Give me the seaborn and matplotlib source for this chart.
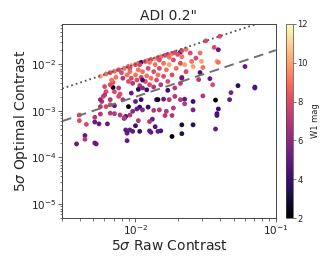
import numpy as np
import pandas as pd
import seaborn as sns
import matplotlib
matplotlib.use("Agg")
import matplotlib.pyplot as plt

# values, stored as log10 of the contrast
raw_log = [
    -2.25, -2.21, -2.18, -2.15, -2.12, -2.08, -2.05, -2.03, -2.00, -1.98,
    -1.96, -1.93, -1.91, -1.89, -1.86, -1.84, -1.82, -1.79, -1.77, -1.74,
    -1.72, -1.68, -1.67, -1.64, -1.50, -1.40, -2.04, -1.97, -1.90, -1.83,
    -1.76, -1.70,
    -2.16, -2.14, -2.10, -2.09, -2.06, -2.05, -2.04, -2.03, -2.02, -2.00,
    -1.99, -1.98, -1.97, -1.96, -1.95, -1.95, -1.93, -1.92, -1.91, -1.90,
    -1.89, -1.87, -1.87, -1.86, -1.85, -1.84, -1.83, -1.82, -1.80, -1.80,
    -1.78, -1.77, -1.76, -1.74, -1.73, -1.72, -1.71, -1.68, -1.67, -1.67,
    -1.65, -1.64, -1.61, -1.60, -1.59, -1.57, -1.54, -1.53, -1.52, -1.44,
    -1.42, -1.41, -1.41, -1.47,
    -1.95, -1.92, -1.98, -2.03, -1.96, -2.00, -1.91, -1.97, -1.85, -1.77,
    -1.54, -1.67,
    -2.24, -2.23, -2.18, -2.15, -2.12, -2.11, -2.09, -2.16, -2.05, -2.18,
    -2.15, -2.11, -2.08, -2.07, -2.04, -2.02, -1.99, -1.95, -1.87, -1.83,
    -1.78, -1.73, -1.80, -1.84, -1.76, -1.72, -1.68, -1.65, -1.65, -1.74,
    -1.79, -1.88, -1.90, -1.98, -2.00, -2.04, -2.07, -2.06, -1.86, -1.82,
    -1.90, -1.74, -1.67, -1.59, -1.59, -1.59, -1.52, -1.43, -1.41, -1.42,
    -1.42, -1.43, -1.33, -1.32, -1.27, -1.15, -1.15, -1.22, -1.55, -1.45,
    -1.68, -2.08,
    -2.42, -2.36, -2.36, -2.29, -2.28, -2.40, -2.40, -2.35, -2.29, -2.26,
    -2.20, -2.29, -2.25, -2.21, -2.25, -2.18, -2.02, -2.06, -1.97, -1.89,
    -1.84, -1.67,
    -2.22, -2.21, -2.18, -2.17, -2.15, -2.12, -2.22, -2.25,
]
opt_log = [
    -2.26, -2.21, -2.18, -2.15, -2.12, -2.09, -2.05, -2.03, -2.01, -1.98,
    -1.96, -1.94, -1.92, -1.90, -1.88, -1.86, -1.84, -1.81, -1.79, -1.77,
    -1.75, -1.74, -1.71, -1.68, -1.50, -1.40, -2.09, -2.01, -1.96, -1.91,
    -1.85, -1.79,
    -2.39, -2.28, -2.18, -2.30, -2.23, -2.37, -2.16, -2.30, -2.41, -2.23,
    -2.34, -2.12, -2.46, -2.28, -2.16, -2.51, -2.37, -2.25, -2.09, -2.44,
    -2.30, -2.16, -2.49, -2.01, -2.34, -2.23, -2.09, -2.44, -1.98, -2.26,
    -2.12, -2.37, -2.01, -2.23, -1.91, -2.51, -2.09, -1.98, -2.28, -1.84,
    -2.01, -2.16, -1.76, -1.94, -2.05, -1.87, -1.76, -1.94, -2.07, -1.64,
    -1.94, -1.96, -1.69, -2.31,
    -2.34, -2.55, -2.54, -2.62, -2.76, -2.80, -2.92, -2.92, -2.76, -2.56,
    -2.18, -2.30,
    -2.80, -2.69, -2.76, -2.89, -2.69, -2.64, -2.76, -2.50, -2.91, -3.05,
    -3.06, -3.09, -3.16, -3.12, -3.09, -3.01, -2.96, -2.98, -2.99, -2.98,
    -3.01, -2.94, -2.75, -2.76, -2.76, -2.69, -2.76, -2.75, -2.85, -3.10,
    -3.10, -3.18, -3.23, -3.21, -3.32, -3.41, -3.41, -3.64, -3.34, -3.43,
    -3.43, -3.55, -3.49, -3.30, -2.80, -2.98, -2.68, -2.77, -2.96, -3.06,
    -3.10, -3.39, -2.76, -2.61, -2.46, -2.49, -2.51, -2.05, -2.33, -2.44,
    -2.41, -3.15,
    -3.71, -3.53, -3.61, -3.69, -3.71, -3.09, -3.21, -3.29, -3.24, -3.28,
    -3.28, -3.14, -2.91, -2.91, -3.07, -2.87, -3.44, -3.48, -3.44, -3.46,
    -3.44, -3.30,
    -2.48, -2.59, -2.44, -2.34, -2.59, -2.51, -2.66, -2.76,
]
w1_mag = [
    10, 9, 8, 9, 8, 9, 8, 10, 8, 9,
    4, 8, 9, 8, 10, 8, 9, 8, 8, 9,
    8, 4, 8, 9, 8, 8, 8, 8, 9, 8,
    9, 8,
    8, 9, 8, 7, 9, 8, 9, 8, 7, 9,
    8, 9, 7, 8, 9, 6, 8, 9, 8, 8,
    9, 8, 7, 9, 8, 9, 8, 7, 9, 8,
    9, 8, 10, 8, 8, 7, 9, 8, 7, 9,
    10, 8, 8, 9, 10, 8, 9, 10, 9, 8,
    10, 9, 5, 5,
    4, 4, 3.5, 5, 4, 5, 4, 4, 4, 4,
    4.5, 5,
    7, 8, 7, 5, 8, 8, 7, 2.5, 2, 7,
    7, 7, 3, 4, 7, 6, 5, 6, 7, 7,
    7, 7, 5, 2.5, 7, 7, 7, 5, 7, 7,
    7, 5, 7, 7, 4, 5, 5, 5, 4.5, 4.5,
    5, 2, 3.5, 3.5, 4, 5.5, 7, 2, 4, 4,
    4.5, 5, 5, 5.5, 3.5, 4.5, 4.5, 5, 7, 8,
    7, 7,
    5, 5, 7, 5, 5, 8, 8, 8, 5, 5,
    5, 7, 7, 8, 7, 8, 5, 5, 4, 5,
    5, 3,
    8, 8, 8, 9, 8, 7, 7, 6,
]

line_x = [0.003, 0.1]
equal_ratio = 1.0     # dotted: optimal = raw
improved_ratio = 0.2  # dashed: optimal = 0.2 * raw

df = pd.DataFrame({
    "raw": 10 ** np.array(raw_log),
    "opt": 10 ** np.array(opt_log),
    "w1": w1_mag,
})

sns.set_style("ticks")
plt.rcParams["font.family"] = ["DejaVu Sans"]
plt.rcParams["axes.edgecolor"] = "#444444"
plt.rcParams["xtick.color"] = "#444444"
plt.rcParams["ytick.color"] = "#444444"
plt.rcParams["xtick.labelcolor"] = "#222222"
plt.rcParams["ytick.labelcolor"] = "#222222"

fig = plt.figure(figsize=(3.32, 2.66), dpi=100)
ax = fig.add_axes([0.187, 0.180, 0.644, 0.730])
cax = fig.add_axes([0.861, 0.180, 0.022, 0.730])

sns.scatterplot(data=df, x="raw", y="opt", hue="w1", palette="magma",
                hue_norm=(2, 12), s=12, linewidth=0, legend=False, ax=ax)

lx = np.array(line_x)
ax.plot(lx, equal_ratio * lx, ls=":", color="#555555", lw=1.3)
ax.plot(lx, improved_ratio * lx, ls=(0, (5, 3)), color="#707070", lw=1.4)

ax.set_xscale("log")
ax.set_yscale("log")
ax.set_xlim(0.003, 0.1)
ax.set_ylim(5e-6, 0.073)
for s in ax.spines.values():
    s.set_linewidth(0.7)
ax.tick_params(which="major", length=3, width=0.6, labelsize=7.5, pad=1)
ax.tick_params(which="minor", length=1.8, width=0.5)
ax.set_title('ADI 0.2"', fontsize=10, pad=3)
ax.set_xlabel(r"5$\sigma$ Raw Contrast", fontsize=10, labelpad=1)
ax.set_ylabel(r"5$\sigma$ Optimal Contrast", fontsize=10, labelpad=1)

sm = plt.cm.ScalarMappable(cmap="magma", norm=plt.Normalize(2, 12))
cb = fig.colorbar(sm, cax=cax)
cb.set_ticks([2, 4, 6, 8, 10, 12])
cb.ax.tick_params(labelsize=6, length=2, width=0.5, pad=1)
cb.outline.set_linewidth(0.5)
cb.set_label("W1 mag", fontsize=6, labelpad=2)

fig.savefig("out.png", dpi=100)
